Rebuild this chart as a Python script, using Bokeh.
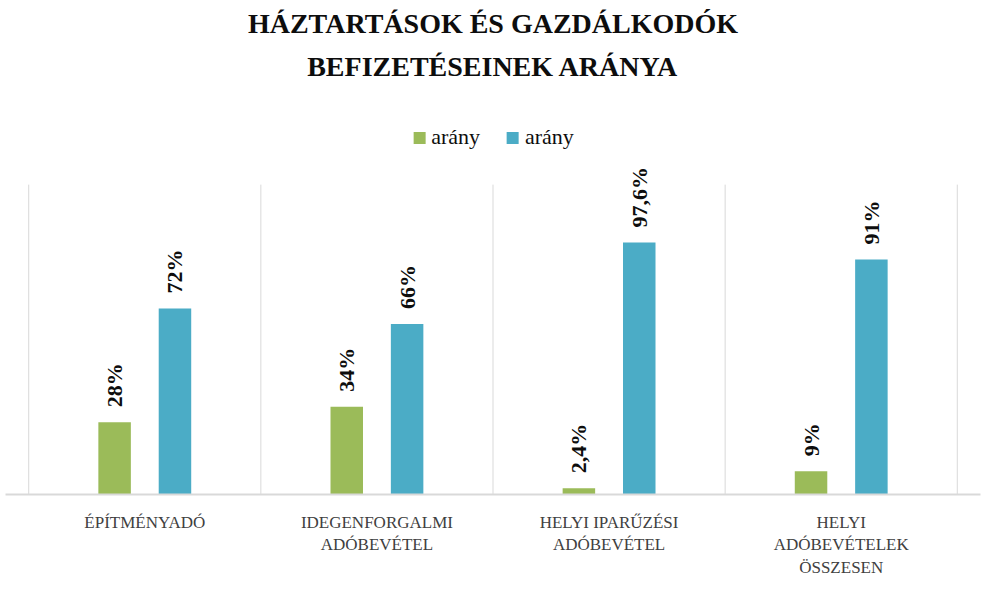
from math import pi
from bokeh.plotting import figure
from bokeh.models import (ColumnDataSource, FactorRange, Range1d, Legend, LegendItem,
                          Title)
from bokeh.transform import dodge
from bokeh.core.properties import value
from bokeh.embed import file_html
from bokeh.resources import INLINE

categories = ["ÉPÍTMÉNYADÓ", "IDEGENFORGALMI\nADÓBEVÉTEL",
              "HELYI IPARŰZÉSI\nADÓBEVÉTEL", "HELYI\nADÓBEVÉTELEK\nÖSSZESEN"]
households = [28, 34, 2.4, 9]
businesses = [72, 66, 97.6, 91]
households_labels = ["28%", "34%", "2,4%", "9%"]
businesses_labels = ["72%", "66%", "97,6%", "91%"]
series_names = ["arány", "arány"]
title_lines = ["HÁZTARTÁSOK ÉS GAZDÁLKODÓK", "BEFIZETÉSEINEK ARÁNYA"]

GREEN = "#9BBB59"
BLUE = "#4BACC6"
SERIF = "Liberation Serif"

src = ColumnDataSource(dict(cat=categories, h=households, b=businesses,
                            hl=households_labels, bl=businesses_labels))
n = len(categories)
bounds = ColumnDataSource(dict(x=list(range(n + 1)), y0=[0] * (n + 1),
                               y1=[120] * (n + 1)))

p = figure(x_range=FactorRange(*categories, range_padding=0.1,
                               range_padding_units="absolute"),
           y_range=Range1d(0, 158),
           width=985, height=580, output_backend="svg", toolbar_location=None,
           y_axis_location=None)
p.title.visible = False

p.segment(x0="x", y0="y0", x1="x", y1="y1", source=bounds, line_color="#d9d9d9",
          line_width=1)

r1 = p.vbar(x=dodge("cat", -0.13, range=p.x_range), top="h", width=0.14,
            source=src, color=GREEN, line_color=None)
r2 = p.vbar(x=dodge("cat", 0.13, range=p.x_range), top="b", width=0.14,
            source=src, color=BLUE, line_color=None)

p.text(x=dodge("cat", -0.13, range=p.x_range), y="h", text="hl", source=src,
       angle=pi / 2, text_align="left", text_baseline="middle", y_offset=-15,
       text_font=value(SERIF), text_font_size="22px", text_font_style="bold",
       text_color="#0d0d0d")
p.text(x=dodge("cat", 0.13, range=p.x_range), y="b", text="bl", source=src,
       angle=pi / 2, text_align="left", text_baseline="middle", y_offset=-15,
       text_font=value(SERIF), text_font_size="22px", text_font_style="bold",
       text_color="#0d0d0d")

legend = Legend(items=[LegendItem(label=series_names[0], renderers=[r1]),
                       LegendItem(label=series_names[1], renderers=[r2])],
                orientation="horizontal", location="top_center",
                glyph_width=15, glyph_height=15, label_standoff=5, spacing=25,
                label_text_font=SERIF, label_text_font_size="22px",
                label_text_color="#0d0d0d", border_line_color=None,
                background_fill_alpha=0, padding=0, margin=38)
p.add_layout(legend)

for line in reversed(title_lines):
    p.add_layout(Title(text=line, align="center", text_font=SERIF,
                       text_font_size="28px", text_font_style="bold",
                       text_color="#0d0d0d"), "above")

p.xgrid.visible = False
p.ygrid.visible = False
p.outline_line_color = None
xa = p.xaxis[0]
xa.axis_line_color = "#d9d9d9"
xa.axis_line_width = 2
xa.major_tick_line_color = None
xa.minor_tick_line_color = None
xa.major_label_text_font = SERIF
xa.major_label_text_font_size = "17px"
xa.major_label_text_color = "#404040"
xa.major_label_standoff = 12

open("out.html", "w").write(file_html(p, INLINE))
